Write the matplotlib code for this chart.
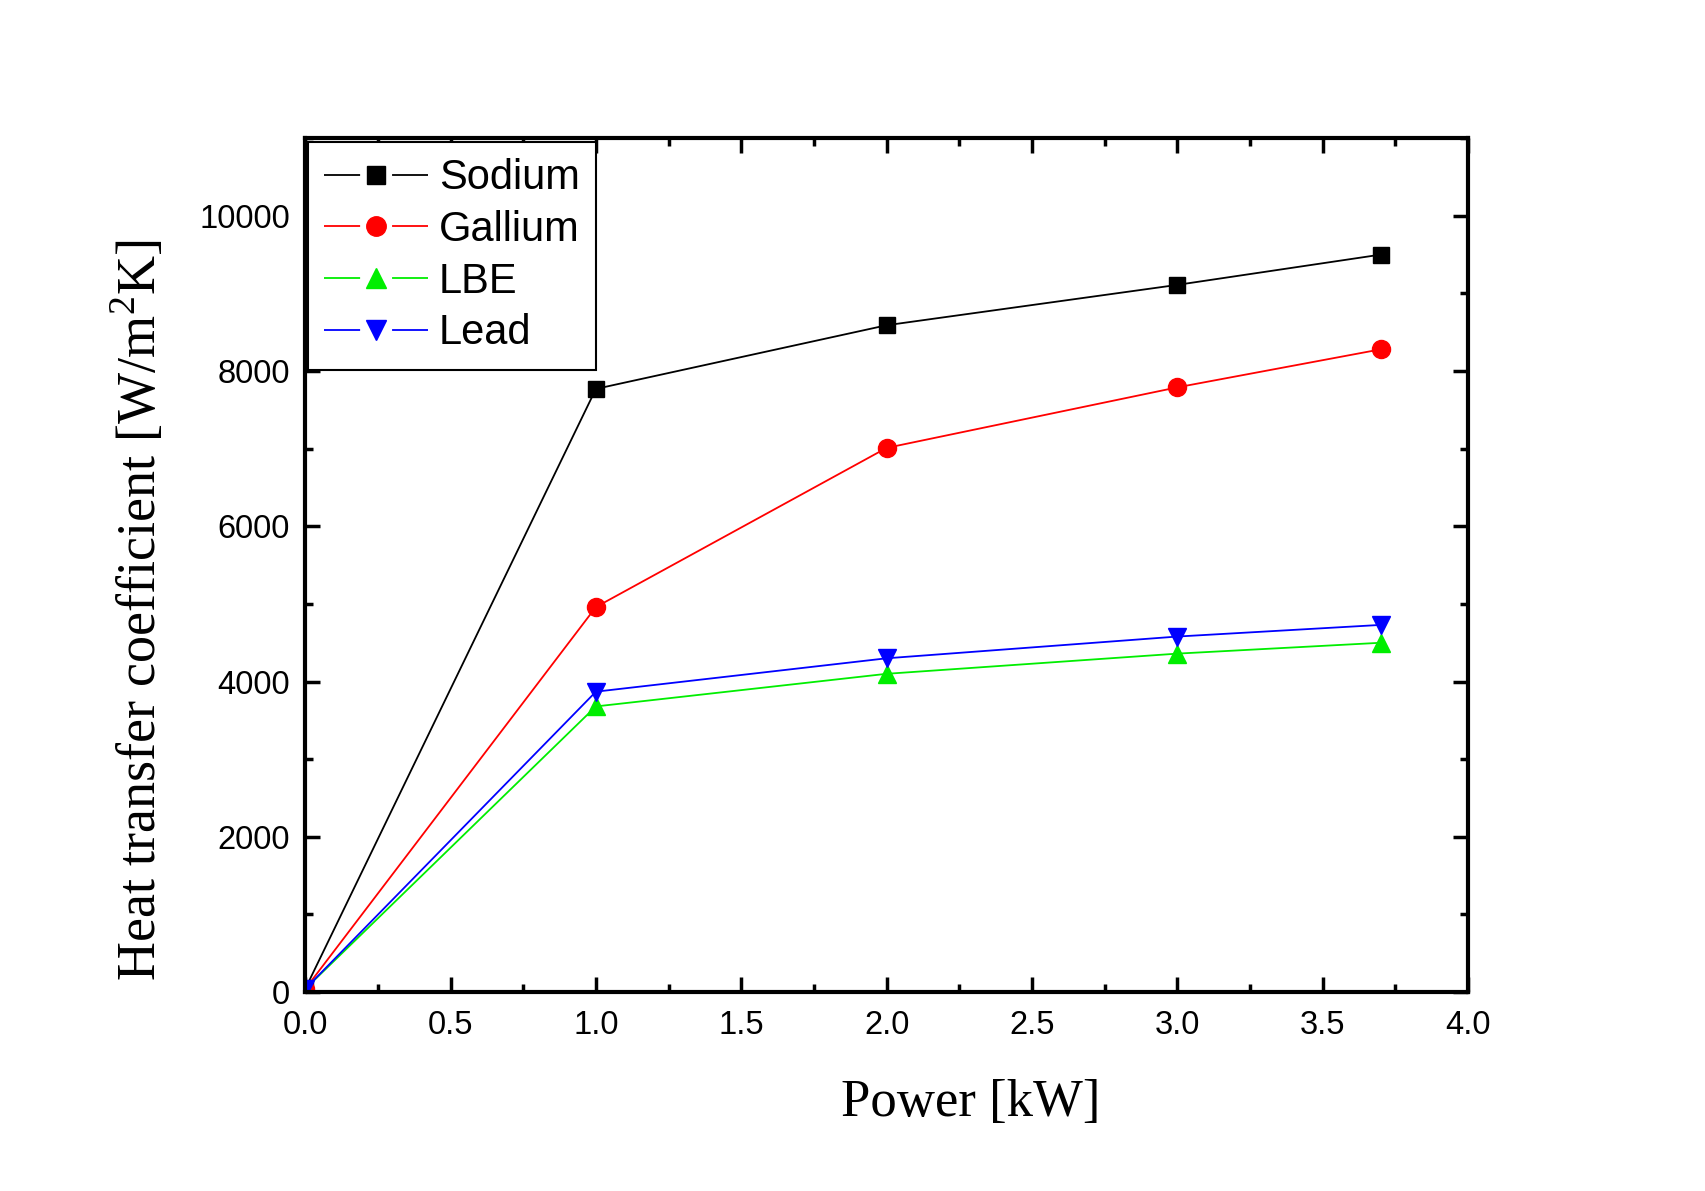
import matplotlib.pyplot as plt
from matplotlib.lines import Line2D
from matplotlib.ticker import MultipleLocator

# values
power = [0.0, 1.0, 2.0, 3.0, 3.7]
sodium = [40, 7770, 8590, 9110, 9500]
gallium = [40, 4960, 7010, 7790, 8280]
lbe = [40, 3680, 4100, 4360, 4500]
lead = [40, 3870, 4300, 4580, 4730]

names = ['Sodium', 'Gallium', 'LBE', 'Lead']
colors = ['black', '#ff0000', '#00ee00', '#0000ff']
markers = ['s', 'o', '^', 'v']
sizes = [12, 13, 13, 13]

fig = plt.figure(figsize=(17.05, 11.91), dpi=100)
ax = fig.add_axes([0.179, 0.167, 0.682, 0.717])

for y, c, m, s in zip([sodium, gallium, lbe, lead], colors, markers, sizes):
    ax.plot(power, y, color=c, lw=1.3, marker=m, ms=s)

ax.set_xlim(0, 4)
ax.set_ylim(0, 11000)
ax.xaxis.set_major_locator(MultipleLocator(0.5))
ax.xaxis.set_minor_locator(MultipleLocator(0.25))
ax.yaxis.set_major_locator(MultipleLocator(2000))
ax.yaxis.set_minor_locator(MultipleLocator(1000))
ax.set_xticklabels(['%.1f' % v for v in ax.get_xticks()])

ax.tick_params(which='both', direction='in', top=True, right=True, width=2.5)
ax.tick_params(which='major', length=11, labelsize=23.5)
ax.tick_params(axis='x', which='major', pad=13)
ax.tick_params(axis='y', which='major', pad=11)
ax.tick_params(which='minor', length=6)
for lab in ax.get_xticklabels() + ax.get_yticklabels():
    lab.set_family('Liberation Sans')
for s in ax.spines.values():
    s.set_linewidth(3)

ax.set_xlabel('Power [kW]', family='Liberation Serif', fontsize=38)
ax.set_ylabel(r'Heat transfer coefficient [W/m$^\mathregular{2}$K]',
              family='Liberation Serif', fontsize=39)
# the original labels sit off-centre
ax.xaxis.set_label_coords(0.572, -0.102)
ax.yaxis.set_label_coords(-0.118, 0.447)

# legend handles: line - marker - line with gaps, like the original
handles = [Line2D([], [], color=c, lw=1.3, marker=m, ms=s + 1,
                  dashes=(20, 17.7))
           for c, m, s in zip(colors, markers, sizes)]
leg = ax.legend(handles, names, loc='upper left', bbox_to_anchor=(0.002, 0.996),
                prop={'family': 'Liberation Sans', 'size': 30},
                fancybox=False, edgecolor='black', framealpha=1,
                borderpad=0.4, labelspacing=0.28, handlelength=2.5,
                handletextpad=0.25, borderaxespad=0)
leg.get_frame().set_linewidth(1.5)

plt.savefig('out.png')
